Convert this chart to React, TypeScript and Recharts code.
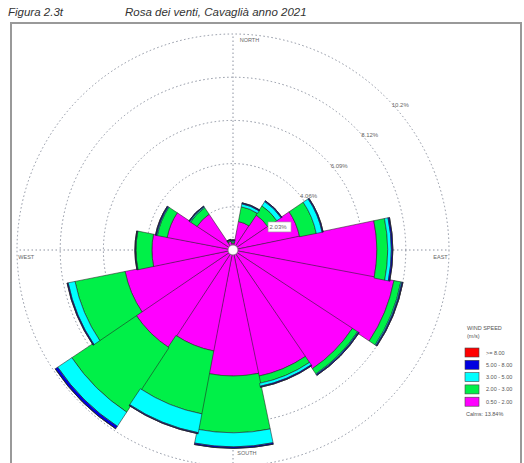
// Wind rose "Rosa dei venti, Cavaglià anno 2021" — stacked centric radial bars,
// one sector per compass direction, bands by wind speed class.

import {
  PolarAngleAxis,
  PolarGrid,
  PolarRadiusAxis,
  RadialBar,
  RadialBarChart,
} from "recharts";

const DIRECTIONS = ["N", "NNE", "NE", "ENE", "E", "ESE", "SE", "SSE", "S", "SSW", "SW", "WSW", "W", "WNW", "NW", "NNW"];

// frequency (%) per direction, by wind speed class (m/s)
const SPEED_050_200 = [0.33, 1.36, 1.97, 3.19, 6.76, 7.7, 6.71, 6.05, 5.92, 4.83, 5.49, 5.17, 3.81, 3.15, 2.02, 0.42];
const SPEED_200_300 = [0.07, 0.71, 0.51, 0.8, 0.51, 0.33, 0.29, 0.34, 2.67, 3.01, 3.62, 2.4, 0.75, 0.47, 0.37, 0.05];
const SPEED_300_500 = [0.05, 0.14, 0.24, 0.28, 0.17, 0.05, 0.04, 0.14, 0.66, 0.9, 0.8, 0.33, 0.02, 0.04, 0.05, 0.02];
const SPEED_500_800 = [0.03, 0.05, 0.05, 0.05, 0.07, 0.05, 0.05, 0.05, 0.07, 0.05, 0.14, 0.05, 0.03, 0.05, 0.04, 0.02];
const SPEED_800_UP = [0, 0, 0, 0, 0, 0, 0, 0, 0, 0, 0, 0, 0, 0, 0, 0];

const RING_VALUES = [2.03, 4.06, 6.09, 8.12, 10.15];
const RING_LABELS = ["2.03%", "4.06%", "6.09%", "8.12%", "10.2%"];
const AXIS_LABELS: Record<string, string> = { N: "NORTH", E: "EAST", S: "SOUTH", W: "WEST" };

const BANDS = [
  { key: "s1", label: "0.50 - 2.00", color: "#ff00ff", values: SPEED_050_200 },
  { key: "s2", label: "2.00 - 3.00", color: "#00f048", values: SPEED_200_300 },
  { key: "s3", label: "3.00 - 5.00", color: "#00ffff", values: SPEED_300_500 },
  { key: "s4", label: "5.00 - 8.00", color: "#0000e0", values: SPEED_500_800 },
  { key: "s5", label: ">= 8.00", color: "#ff0000", values: SPEED_800_UP },
];
const CALMS = "Calms: 13.84%";

const data = DIRECTIONS.map((dir, i) => {
  const row: Record<string, string | number> = { dir };
  BANDS.forEach((b) => (row[b.key] = b.values[i]));
  return row;
});

const CX = 233;
const CY = 250;
const R = 216;
const GRID = "#8c92a0";
const FONT = "Liberation Sans, Arial, sans-serif";

// angle ticks sit on the clockwise edge of each sector (half a sector past the
// compass point), so the cardinal labels are nudged back onto the dotted axes
function DirTick(props: any) {
  const { x, y, payload } = props;
  const label = AXIS_LABELS[payload?.value];
  if (!label) return null;
  const pos: Record<string, [number, number, string]> = {
    N: [-37, 10, "start"],
    E: [-5, -37, "end"],
    S: [48, -17, "start"],
    W: [5, 51, "start"],
  };
  const [dx, dy, anchor] = pos[payload.value];
  return (
    <text x={x + dx} y={y + dy} textAnchor={anchor} dominantBaseline="central" fontSize={5.5} fill="#666" fontFamily={FONT}>
      {label}
    </text>
  );
}

function RingTick(props: any) {
  const { x, y, index } = props;
  const tx = x + 6;
  const ty = y + 7.5;
  return (
    <g>
      {index === 0 && <rect x={tx - 1.5} y={ty - 5} width={23} height={10} fill="#fff" stroke="#999" strokeWidth={0.6} />}
      <text x={tx} y={ty} dominantBaseline="central" fontSize={6} fill="#666" fontFamily={FONT}>
        {RING_LABELS[index]}
      </text>
    </g>
  );
}

export default function App() {
  return (
    <div style={{ position: "absolute", left: 0, top: 0, width: 524, height: 463, background: "#fff", overflow: "hidden" }}>
      <svg width={524} height={463} style={{ position: "absolute", left: 0, top: 0 }}>
        <text x={8} y={16} fontSize={11.5} fontStyle="italic" fill="#333" fontFamily={FONT}>Figura 2.3t</text>
        <text x={125} y={16} fontSize={11.5} fontStyle="italic" fill="#333" fontFamily={FONT}>Rosa dei venti, Cavaglià anno 2021</text>
        <rect x={11} y={23} width={510} height={460} fill="none" stroke="#999" strokeWidth={2} />
      </svg>
      <div style={{ position: "absolute", left: 0, top: 0 }}>
        <RadialBarChart
          width={524}
          height={463}
          data={data}
          layout="centric"
          cx={CX}
          cy={CY}
          innerRadius={0}
          outerRadius={R}
          startAngle={78.75}
          endAngle={-281.25}
          barCategoryGap={0}
          margin={{ top: 0, right: 0, bottom: 0, left: 0 }}
        >
          <PolarGrid
            gridType="circle"
            polarAngles={[90, 0, -90, 180]}
            stroke={GRID}
            strokeDasharray="1.5 2.5"
          />
          <PolarAngleAxis
            type="category"
            dataKey="dir"
            axisLine={false}
            tickLine={false}
            tick={DirTick}
          />
          <PolarRadiusAxis
            type="number"
            angle={45}
            domain={[0, 10.15]}
            ticks={RING_VALUES}
            axisLine={false}
            tick={RingTick}
          />
          {BANDS.map((b) => (
            <RadialBar
              key={b.key}
              dataKey={b.key}
              stackId="wind"
              fill={b.color}
              stroke="#222"
              strokeWidth={0.7}
              strokeOpacity={0.8}
              isAnimationActive={false}
            />
          ))}
        </RadialBarChart>
      </div>
      <svg width={524} height={463} style={{ position: "absolute", left: 0, top: 0, pointerEvents: "none" }}>
        <circle cx={CX} cy={CY} r={5} fill="#fff" stroke="#777" strokeWidth={0.8} />
        <text x={467} y={330} fontSize={5.5} fill="#555" fontFamily={FONT}>WIND SPEED</text>
        <text x={467} y={338} fontSize={5.5} fill="#555" fontFamily={FONT}>(m/s)</text>
        {[...BANDS].reverse().map((b, i) => (
          <g key={b.key}>
            <rect x={465} y={348 + i * 12.3} width={14} height={9} fill={b.color} stroke="#444" strokeWidth={0.6} />
            <text x={486} y={352.5 + i * 12.3} dominantBaseline="central" fontSize={5.5} fill="#555" fontFamily={FONT}>
              {b.label}
            </text>
          </g>
        ))}
        <text x={466} y={416} fontSize={5.5} fill="#555" fontFamily={FONT}>{CALMS}</text>
      </svg>
    </div>
  );
}
